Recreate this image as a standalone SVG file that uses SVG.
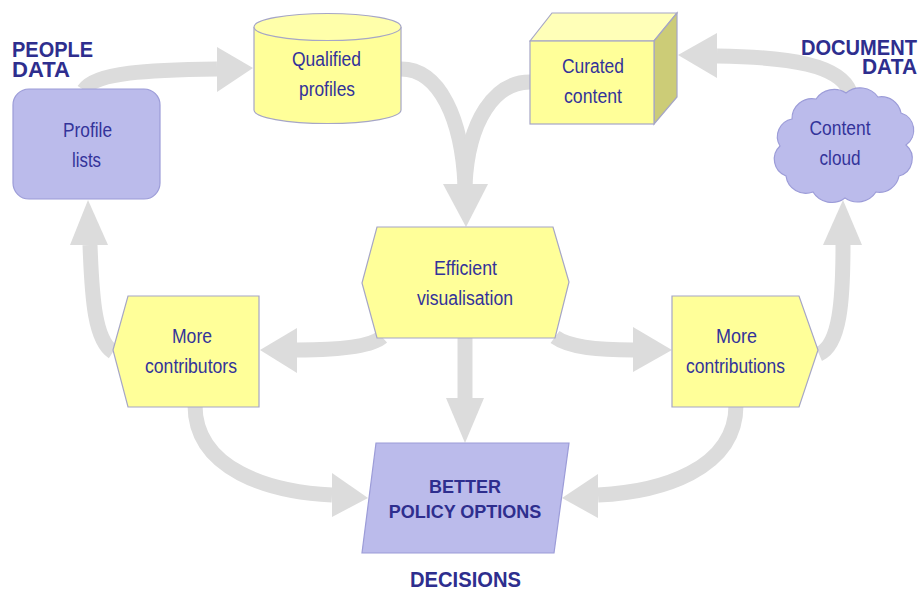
<svg xmlns="http://www.w3.org/2000/svg" width="922" height="592" viewBox="0 0 922 592">
<style>
.shaft{fill:none;stroke:#dcdcdc;stroke-width:15}
.head{fill:#dcdcdc}
.yel{fill:#ffff99;stroke:#a6a6c6;stroke-width:1.2}
.pur{fill:#bbbbeb;stroke:#9c9cd8;stroke-width:1.2}
.lbl{font-family:"Liberation Sans",Arial,sans-serif;font-size:20px;fill:#33339a;text-anchor:middle}
.hd{font-family:"Liberation Sans",Arial,sans-serif;font-weight:bold;font-size:22px;fill:#2e2e8e}
.bt{font-family:"Liberation Sans",Arial,sans-serif;font-weight:bold;font-size:18px;fill:#2e2e8e;text-anchor:middle}
</style>
<rect width="922" height="592" fill="#ffffff"/>
<g id="connectors">
<path class="shaft" d="M84 90 C95 72 150 70 217 69"/>
<polygon class="head" points="217,47 253,68 217,92"/>
<path class="shaft" d="M401 69 C440 69 462 120 465 185"/>
<path class="shaft" d="M530 82 C495 82 468 120 465 185"/>
<polygon class="head" points="443,184 488,184 466,227"/>
<path class="shaft" d="M850 92 C840 65 790 57 717 56"/>
<polygon class="head" points="717,33 678,55 717,78"/>
<path class="shaft" d="M113 352 C95 340 92 300 90 245"/>
<polygon class="head" points="70,245 108,245 88,200"/>
<path class="shaft" d="M382 337 C370 348 330 350 297 350"/>
<polygon class="head" points="297,328 260,350 297,373"/>
<path class="shaft" d="M555 337 C570 348 600 350 633 350"/>
<polygon class="head" points="633,327 672,350 633,372"/>
<path class="shaft" d="M819 354 C840 345 843 300 843 245"/>
<polygon class="head" points="823,245 862,245 843,200"/>
<path class="shaft" d="M465 338 L465 399"/>
<polygon class="head" points="446,398 484,398 465,443"/>
<path class="shaft" d="M195 405 C195 470 270 492 332 495"/>
<polygon class="head" points="332,473 368,498 332,517"/>
<path class="shaft" d="M736 405 C736 470 660 492 598 495"/>
<polygon class="head" points="598,474 562,498 598,518"/>
</g>
<g id="people-data">
<text class="hd"><tspan x="12" y="57" textLength="81" lengthAdjust="spacingAndGlyphs">PEOPLE</tspan><tspan x="12" y="77" textLength="58" lengthAdjust="spacingAndGlyphs">DATA</tspan></text>
</g>
<g id="document-data">
<text class="hd" text-anchor="end"><tspan x="917" y="55" textLength="116" lengthAdjust="spacingAndGlyphs">DOCUMENT</tspan><tspan x="917" y="74" textLength="55" lengthAdjust="spacingAndGlyphs">DATA</tspan></text>
</g>
<g id="profile-lists">
<rect class="pur" x="13" y="89" width="147" height="110" rx="16"/>
<text class="lbl" x="87.5" y="137" textLength="49" lengthAdjust="spacingAndGlyphs">Profile</text>
<text class="lbl" x="86.5" y="167" textLength="29" lengthAdjust="spacingAndGlyphs">lists</text>
</g>
<g id="qualified-profiles">
<path class="yel" d="M254 27 L254 110 A73.5 13.5 0 0 0 401 110 L401 27"/>
<ellipse class="yel" cx="327.5" cy="27" rx="73.5" ry="13.5" style="fill:#ffffaa"/>
<text class="lbl" x="326.5" y="66" textLength="69" lengthAdjust="spacingAndGlyphs">Qualified</text>
<text class="lbl" x="327" y="96" textLength="56" lengthAdjust="spacingAndGlyphs">profiles</text>
</g>
<g id="curated-content">
<polygon class="yel" points="530,41 552,13 677,13 654,41" style="fill:#ffffb8"/>
<polygon class="yel" points="654,41 677,13 677,97 654,124" style="fill:#cccc77"/>
<rect class="yel" x="530" y="41" width="124" height="83"/>
<text class="lbl" x="593" y="73" textLength="62" lengthAdjust="spacingAndGlyphs">Curated</text>
<text class="lbl" x="593" y="103" textLength="58" lengthAdjust="spacingAndGlyphs">content</text>
</g>
<g id="content-cloud">
<path class="pur" d="M792 119 A20 20 0 0 1 816 99 A22 22 0 0 1 846 93 A22 22 0 0 1 878 97 A20 20 0 0 1 901 113 A18 18 0 0 1 906 145 A18 18 0 0 1 899 176 A20 20 0 0 1 876 192 A22 22 0 0 1 845 198 A22 22 0 0 1 813 192 A20 20 0 0 1 786 176 A18 18 0 0 1 780 146 A18 18 0 0 1 792 119 Z"/>
<text class="lbl" x="840" y="135" textLength="61" lengthAdjust="spacingAndGlyphs">Content</text>
<text class="lbl" x="840" y="165" textLength="41" lengthAdjust="spacingAndGlyphs">cloud</text>
</g>
<g id="efficient-visualisation">
<polygon class="yel" points="377,227 553,227 569,282 555,338 377,338 362,283"/>
<text class="lbl" x="465.5" y="275" textLength="63" lengthAdjust="spacingAndGlyphs">Efficient</text>
<text class="lbl" x="465" y="305" textLength="96" lengthAdjust="spacingAndGlyphs">visualisation</text>
</g>
<g id="more-contributors">
<polygon class="yel" points="128,296 259,296 259,407 128,407 113,350"/>
<text class="lbl" x="192" y="343" textLength="40" lengthAdjust="spacingAndGlyphs">More</text>
<text class="lbl" x="191" y="373" textLength="92" lengthAdjust="spacingAndGlyphs">contributors</text>
</g>
<g id="more-contributions">
<polygon class="yel" points="672,296 799,296 818,350 799,407 672,407"/>
<text class="lbl" x="736.5" y="343" textLength="41" lengthAdjust="spacingAndGlyphs">More</text>
<text class="lbl" x="735.5" y="373" textLength="99" lengthAdjust="spacingAndGlyphs">contributions</text>
</g>
<g id="better-policy-options">
<polygon class="pur" points="376,443 569,443 554,553 362,553"/>
<text class="bt" x="465" y="493">BETTER</text>
<text class="bt" x="465" y="518">POLICY OPTIONS</text>
</g>
<g id="decisions">
<text class="hd" x="465.5" y="587" text-anchor="middle" textLength="111" lengthAdjust="spacingAndGlyphs">DECISIONS</text>
</g>
</svg>
